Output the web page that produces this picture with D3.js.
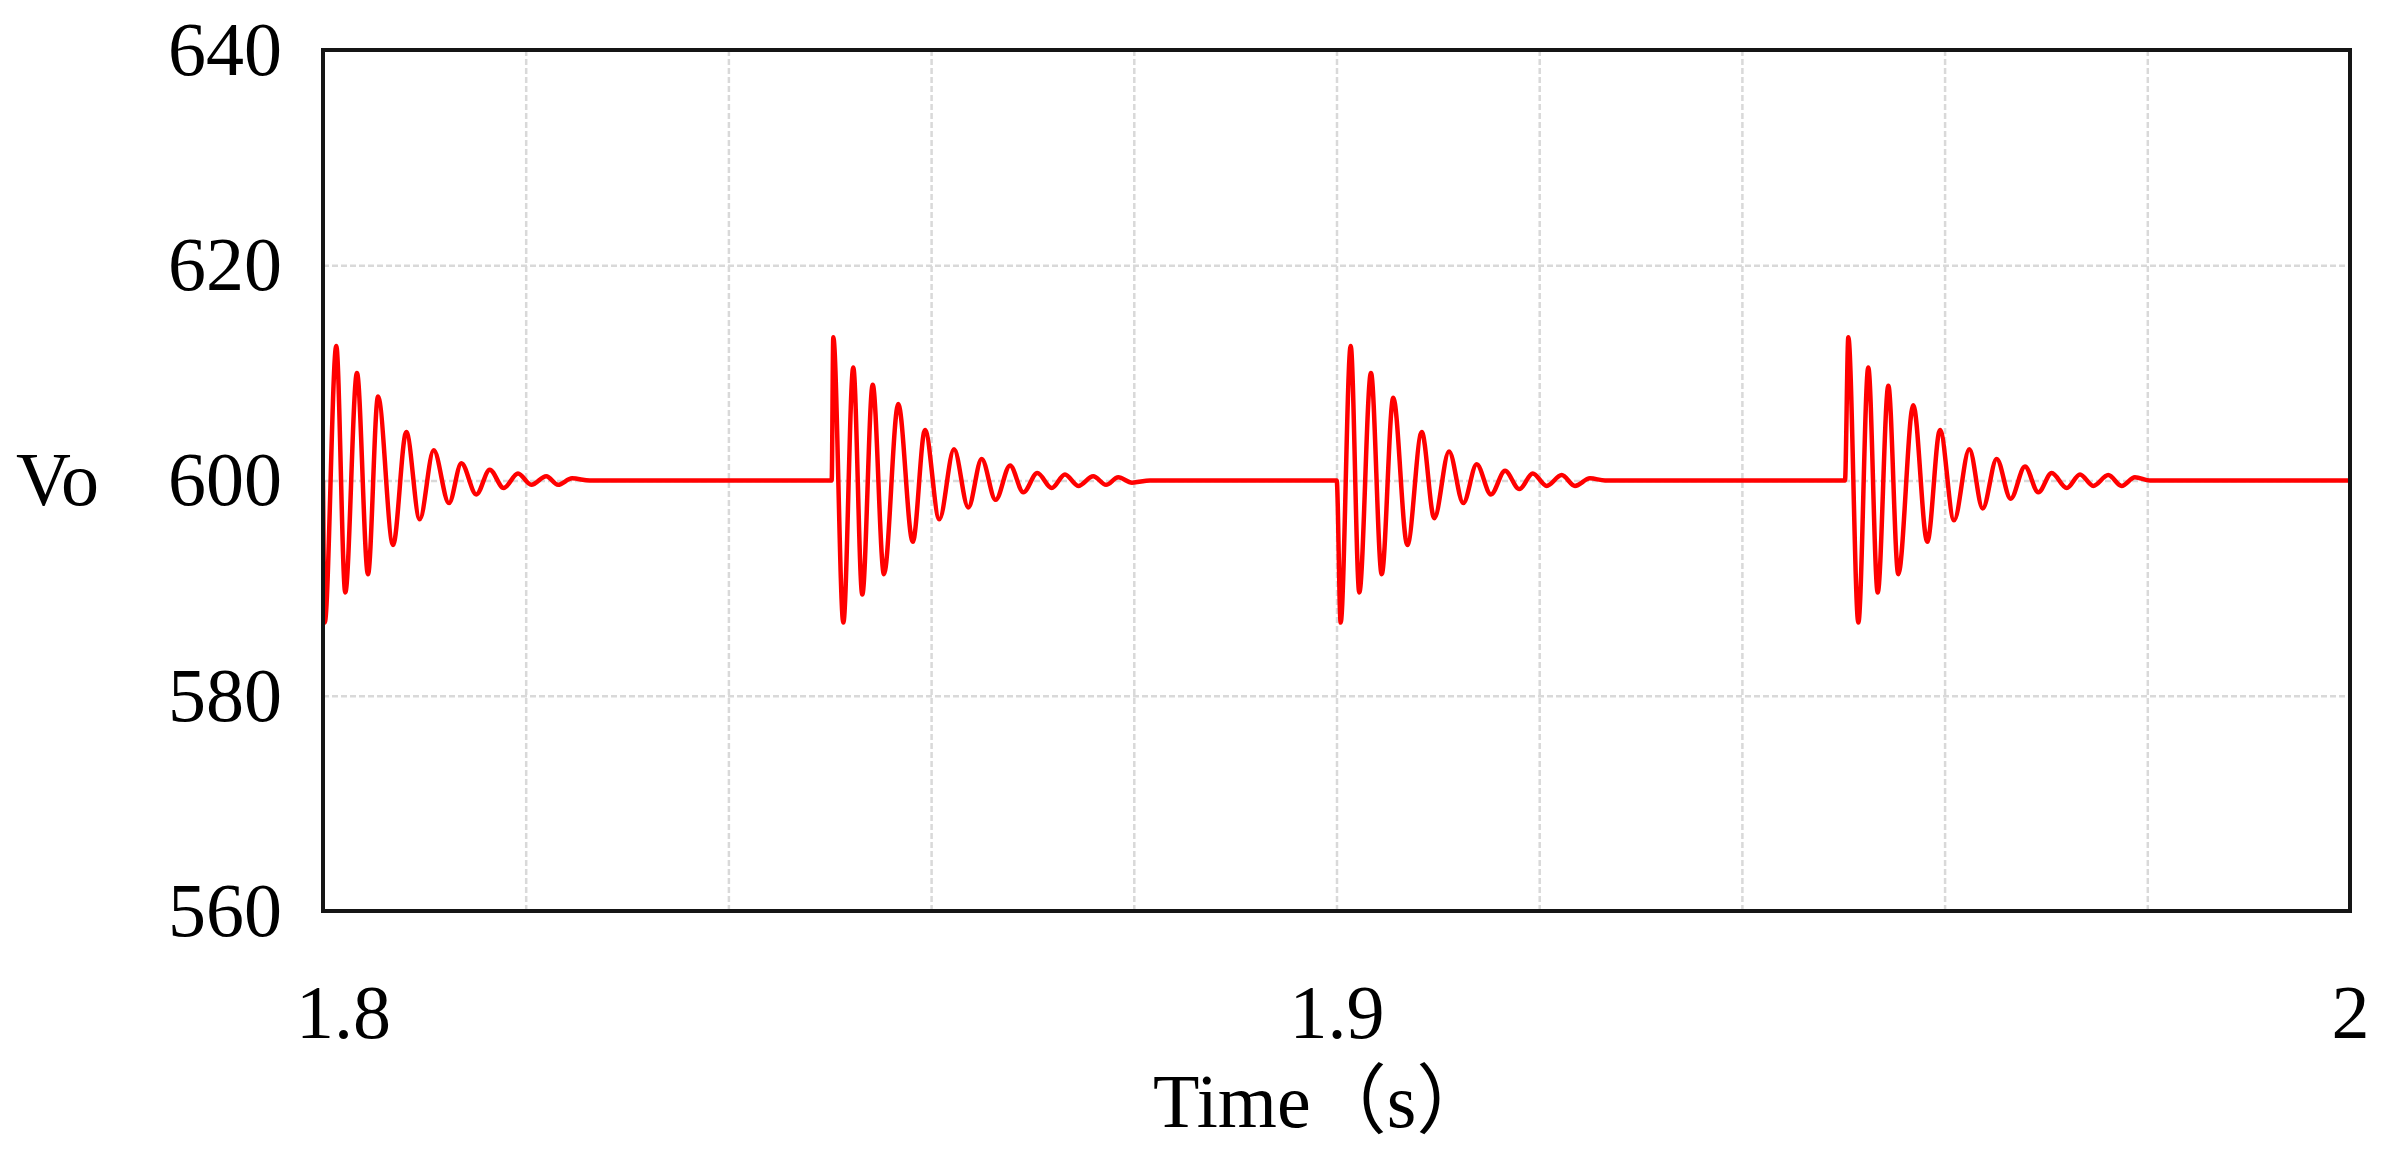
<!DOCTYPE html>
<html>
<head>
<meta charset="utf-8">
<script src="https://cdn.jsdelivr.net/npm/d3@7"></script>
<style>
  body { margin: 0; background: #fff; }
  svg { display: block; }
</style>
</head>
<body>
<div id="wrapper"></div>
<script>
// values (time in s, Vo in V)
const burst1Time = [1.8, 1.80017, 1.80131, 1.80220, 1.80335, 1.80444, 1.80543, 1.80691, 1.80822, 1.80954, 1.81092, 1.81243, 1.81365, 1.81513, 1.81645, 1.81783, 1.81924, 1.82055, 1.82203, 1.82319, 1.82457, 1.82634]
const burst1Vo   = [600, 586.8, 612.5, 589.6, 610.0, 591.3, 607.8, 594.0, 604.5, 596.4, 602.8, 597.9, 601.6, 598.7, 601.0, 599.3, 600.65, 599.6, 600.4, 599.6, 600.2, 600]

const burst2Time = [1.85, 1.85019, 1.85035, 1.85134, 1.85232, 1.85321, 1.85424, 1.85535, 1.85676, 1.85819, 1.85940, 1.86081, 1.86226, 1.86367, 1.86499, 1.86637, 1.86779, 1.86910, 1.87048, 1.87190, 1.87321, 1.87452, 1.87600, 1.87726, 1.87847, 1.87982, 1.88160]
const burst2Vo   = [600, 600, 613.3, 586.8, 610.5, 589.4, 608.9, 591.3, 607.1, 594.3, 604.7, 596.4, 602.9, 597.5, 602.0, 598.2, 601.4, 598.9, 600.7, 599.3, 600.56, 599.5, 600.4, 599.6, 600.3, 599.8, 600]

const burst3Time = [1.9, 1.90002, 1.90041, 1.90140, 1.90225, 1.90340, 1.90446, 1.90560, 1.90699, 1.90841, 1.90965, 1.91110, 1.91251, 1.91383, 1.91524, 1.91663, 1.91804, 1.91936, 1.92074, 1.92222, 1.92353, 1.92501, 1.92650]
const burst3Vo   = [600, 600, 586.8, 612.5, 589.6, 610.0, 591.3, 607.7, 594.0, 604.5, 596.5, 602.7, 597.9, 601.5, 598.7, 600.9, 599.2, 600.65, 599.5, 600.5, 599.5, 600.2, 600]

const burst4Time = [1.95, 1.95017, 1.95050, 1.95149, 1.95247, 1.95340, 1.95445, 1.95543, 1.95691, 1.95829, 1.95955, 1.96093, 1.96244, 1.96376, 1.96514, 1.96652, 1.96793, 1.96925, 1.97057, 1.97205, 1.97336, 1.97467, 1.97615, 1.97747, 1.97878, 1.98026, 2.0]
const burst4Vo   = [600, 600, 613.3, 586.8, 610.5, 589.6, 608.8, 591.3, 607.0, 594.3, 604.7, 596.3, 602.9, 597.4, 602.0, 598.3, 601.3, 598.9, 600.7, 599.3, 600.56, 599.5, 600.5, 599.5, 600.3, 600, 600]

const xTickValues = [1.8, 1.9, 2]
const xGridValues = [1.82, 1.84, 1.86, 1.88, 1.9, 1.92, 1.94, 1.96, 1.98]
const yTickValues = [560, 580, 600, 620, 640]
const yGridValues = [580, 600, 620]
const xLabel = 'Time（s）'
const yLabel = 'Vo'

async function drawChart() {
  const times = [].concat(burst1Time, burst2Time, burst3Time, burst4Time)
  const volts = [].concat(burst1Vo, burst2Vo, burst3Vo, burst4Vo)
  const dataset = times.map((t, i) => ({ t: t, v: volts[i] }))

  const xAccessor = d => d.t
  const yAccessor = d => d.v

  //dimensions
  let dimensions = {
    width: 2389,
    height: 1160,
    margin: { top: 50, right: 39, bottom: 249, left: 323 }
  }
  dimensions.boundedWidth = dimensions.width - dimensions.margin.left - dimensions.margin.right
  dimensions.boundedHeight = dimensions.height - dimensions.margin.top - dimensions.margin.bottom

  const font = '"Liberation Serif", "Times New Roman", "Noto Sans CJK SC", serif'

  //canvas
  const wrapper = d3.select('#wrapper')
    .append('svg')
      .attr('width', dimensions.width)
      .attr('height', dimensions.height)
      .style('background', '#fff')

  const bounds = wrapper.append('g')
    .attr('transform', `translate(${dimensions.margin.left}, ${dimensions.margin.top})`)

  //scales
  const xScale = d3.scaleLinear()
    .domain([1.8, 2.0])
    .range([0, dimensions.boundedWidth])

  const yScale = d3.scaleLinear()
    .domain([560, 640])
    .range([dimensions.boundedHeight, 0])

  //grid
  const xGrid = bounds.append('g')
    .attr('transform', `translate(0, ${dimensions.boundedHeight})`)
    .call(d3.axisBottom(xScale).tickValues(xGridValues).tickSize(-dimensions.boundedHeight).tickFormat(''))
  const yGrid = bounds.append('g')
    .call(d3.axisLeft(yScale).tickValues(yGridValues).tickSize(-dimensions.boundedWidth).tickFormat(''))
  ;[xGrid, yGrid].forEach(g => {
    g.select('.domain').remove()
    g.selectAll('line')
      .attr('stroke', '#d9d9d9')
      .attr('stroke-width', 2.5)
      .attr('stroke-dasharray', '6,3')
  })

  //clip
  bounds.append('clipPath').attr('id', 'plot-clip')
    .append('rect')
      .attr('width', dimensions.boundedWidth)
      .attr('height', dimensions.boundedHeight)

  //line
  const lineGenerator = d3.line()
    .x(d => xScale(xAccessor(d)))
    .y(d => yScale(yAccessor(d)))
    .curve(d3.curveMonotoneX)

  bounds.append('path')
    .attr('clip-path', 'url(#plot-clip)')
    .attr('d', lineGenerator(dataset))
    .attr('fill', 'none')
    .attr('stroke', '#ff0000')
    .attr('stroke-width', 4.5)
    .attr('stroke-linejoin', 'round')

  //frame
  bounds.append('rect')
    .attr('width', dimensions.boundedWidth)
    .attr('height', dimensions.boundedHeight)
    .attr('fill', 'none')
    .attr('stroke', '#151515')
    .attr('stroke-width', 4)

  //axes
  const xAxis = bounds.append('g')
    .attr('transform', `translate(0, ${dimensions.boundedHeight})`)
    .call(d3.axisBottom(xScale).tickValues(xTickValues).tickSize(0).tickPadding(73).tickFormat(d3.format('')))
  const yAxis = bounds.append('g')
    .call(d3.axisLeft(yScale).tickValues(yTickValues).tickSize(0).tickPadding(41))
  ;[xAxis, yAxis].forEach(g => {
    g.select('.domain').remove()
    g.selectAll('text')
      .attr('fill', '#000')
      .style('font-family', font)
      .style('font-size', '76px')
  })
  xAxis.selectAll('text').filter(d => d === 1.8).attr('dx', 20)

  //labels
  wrapper.append('text')
    .attr('x', 1153)
    .attr('y', 1127)
    .style('font-family', font)
    .style('font-size', '76px')
    .attr('fill', '#000')
    .text(xLabel)

  wrapper.append('text')
    .attr('x', 16)
    .attr('y', dimensions.margin.top + yScale(600))
    .attr('dy', '0.32em')
    .style('font-family', font)
    .style('font-size', '76px')
    .attr('fill', '#000')
    .text(yLabel)
}

drawChart()
</script>
</body>
</html>
